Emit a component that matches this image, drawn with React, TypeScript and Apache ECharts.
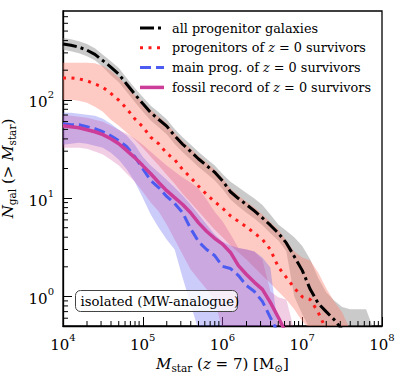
import React, { useEffect, useRef } from "react";
import * as echarts from "echarts";

const SERIF = "DejaVu Serif";

// log10 of stellar mass grid (x positions of all curves)
const logMstar = [
  4.0, 4.1, 4.2, 4.3, 4.4, 4.5, 4.6, 4.7, 4.8, 4.9,
  5.0, 5.1, 5.2, 5.3, 5.4, 5.5, 5.6, 5.7, 5.8, 5.9,
  6.0, 6.1, 6.2, 6.3, 6.4, 6.5, 6.6, 6.7, 6.8, 6.9,
  7.0, 7.1, 7.2, 7.3, 7.4, 7.5, 7.6, 7.7, 7.8, 7.9,
];

// all progenitor galaxies
const allProg = [370, 359, 343, 320, 290, 250, 215, 182, 144, 114, 91.5, 74, 63, 54, 43, 35.3, 29.8, 25, 21.4, 18.4, 15, 11.6, 9.9, 8.6, 7.4, 6.3, 5.3, 4.4, 3.5, 2.55, 1.84, 1.18, 0.85, 0.7, 0.58, 0.46];
const allProgHi = [426, 413, 395, 369, 334, 287, 247, 210, 166, 131.5, 107, 87, 74.5, 63.4, 50.3, 41.5, 35.1, 29.4, 25.2, 21.6, 17.6, 14.7, 12.9, 11.3, 9.9, 8.5, 6.8, 5.4, 4.66, 4.0, 3.26, 2.38, 1.54, 1.1, 0.91, 0.78, 0.74, 0.74, 0.74, 0.45];
const allProgLo = [322, 312, 298, 278, 252, 216, 178, 151, 120, 94.8, 75.9, 61.5, 52.5, 44.7, 35.4, 29.2, 24.7, 20.7, 17.8, 15.2, 12.4, 9.7, 8.2, 7.1, 6.2, 5.3, 4.4, 3.7, 2.88, 1.0, 0.66, 0.46, 0.46, 0.46, 0.46, 0.46, 0.46, 0.46, 0.46, 0.46];

// progenitors of z=0 survivors
const survProg = [167, 167, 163, 156, 145, 134, 116, 98.9, 81, 64.1, 53.2, 41.6, 35.7, 28.6, 24.6, 19.5, 16.2, 13.2, 10.9, 9.2, 7.9, 6.6, 5.8, 5.1, 4.4, 3.8, 3.0, 1.99, 1.56, 1.22, 0.99, 0.93, 0.69, 0.46];
const survProgHi = [238, 238, 238, 238, 235, 221, 197, 169, 139, 112, 95.5, 79.1, 67.8, 57.7, 45.8, 37.8, 32, 26.8, 23, 19.7, 16, 12.5, 10.6, 9.2, 8.0, 6.8, 5.7, 4.8, 3.7, 2.86, 2.49, 2.32, 1.75, 1.21, 0.89, 0.69, 0.46];
const survProgLo = [100, 100, 98, 93.3, 84.9, 75.5, 62.7, 54.5, 46.2, 39.3, 32.6, 26.4, 21.4, 17.3, 14.0, 11.1, 9.0, 7.3, 5.9, 4.8, 4.0, 3.3, 2.8, 2.38, 1.97, 1.63, 1.36, 1.12, 0.93, 0.74, 0.56, 0.46];

// main progenitor of z=0 survivors
const mainProg = [57.1, 55.7, 55.7, 53.2, 50.8, 47.3, 43.1, 38.3, 33.3, 26.4, 19.9, 15.1, 12.8, 10.4, 8.8, 7.1, 4.9, 3.6, 3.0, 2.61, 2.02, 1.92, 1.63, 1.29, 1.12, 0.89, 0.61, 0.42];
const mainProgHi = [73.8, 73.8, 72, 70.4, 68.8, 64, 57, 49.6, 43.1, 34.9, 26.4, 21.4, 18.2, 15.4, 12.8, 10.6, 8.6, 6.8, 5.4, 4.3, 3.6, 3.3, 3.1, 3.0, 2.86, 2.49, 1.97, 0.45];
const mainProgLo = [34.9, 35.7, 36.6, 35.7, 34.1, 32.6, 29, 24.6, 19.5, 14.7, 10.1, 6.8, 5.0, 3.8, 3.0, 1.55, 0.83, 0.45];

// fossil record of z=0 survivors
const fossil = [54.5, 53.2, 52.0, 49.6, 47.3, 44.2, 40.2, 35.7, 30.4, 25.8, 21.4, 17.7, 14.4, 11.9, 10.1, 8.6, 7.1, 5.6, 4.6, 3.9, 3.4, 2.8, 2.06, 1.67, 1.39, 1.18, 0.87, 0.61, 0.42];
const fossilHi = [70.4, 68.8, 67.2, 65.6, 62.7, 59.8, 54.5, 49.6, 45.2, 40.2, 34.9, 29.6, 25.2, 21.4, 18.6, 16.2, 14.4, 12.5, 9.7, 7.3, 5.8, 4.3, 3.1, 3.0, 2.86, 2.38, 1.12, 0.98, 0.93, 0.45];
const fossilLo = [32.6, 32.6, 32.6, 31.8, 29.7, 27.7, 24.6, 21.4, 17.7, 14.7, 11.6, 9.0, 7.3, 5.4, 3.8, 2.67, 1.88, 1.49, 1.18, 0.93, 0.45];

const seriesNames = [
  "all progenitor galaxies",
  "progenitors of z=0 survivors",
  "main prog. of z=0 survivors",
  "fossil record of z=0 survivors",
];
// legend label pieces: [text, italic]
const legendPieces: [string, boolean][][] = [
  [["all progenitor galaxies", false]],
  [["progenitors of ", false], ["z", true], [" = 0 survivors", false]],
  [["main prog. of ", false], ["z", true], [" = 0 survivors", false]],
  [["fossil record of ", false], ["z", true], [" = 0 survivors", false]],
];

const X_MIN = 1e4;
const X_MAX = 1e8;
const Y_MIN = 0.5;
const Y_MAX = 800;

const xMinorTicks = [2, 3, 4, 5, 6, 7, 8, 9].flatMap((m) => [1e4, 1e5, 1e6, 1e7].map((d) => m * d));
const yMinorTicks = [0.6, 0.7, 0.8, 0.9, 2, 3, 4, 5, 6, 7, 8, 9, 20, 30, 40, 50, 60, 70, 80, 90, 200, 300, 400, 500, 600, 700];

const boxLabel = "isolated (MW-analogue)";

const mstar = logMstar.map((e) => Math.pow(10, e));
const pairs = (ys: number[]) => ys.map((y, i) => [mstar[i], y]);

const STYLES = [
  { color: "#000", width: 3, dash: [14, 4, 3, 4] as any },
  { color: "#ff1a1a", width: 3, dash: [3, 5.5] as any },
  { color: "#4d5cf0", width: 3, dash: [11, 5] as any },
  { color: "#cc3d99", width: 3.5, dash: null as any },
];

function band(lo: number[], hi: number[], fill: string, z: number) {
  return {
    type: "custom",
    silent: true,
    clip: true,
    z,
    data: [[mstar[0], hi[0]]],
    renderItem: (_p: any, api: any) => {
      const pts: number[][] = [];
      for (let i = 0; i < hi.length; i++) pts.push(api.coord([mstar[i], hi[i]]));
      for (let i = lo.length - 1; i >= 0; i--) pts.push(api.coord([mstar[i], lo[i]]));
      return { type: "polygon", shape: { points: pts }, style: { fill } };
    },
  };
}

function lineSeries(k: number, ys: number[]) {
  const s = STYLES[k];
  return {
    name: seriesNames[k],
    type: "line",
    data: pairs(ys),
    showSymbol: false,
    symbol: "none",
    clip: true,
    z: 4,
    lineStyle: { color: s.color, width: s.width, type: s.dash || "solid", cap: "butt" },
    itemStyle: { color: s.color },
  };
}

const tickRich = {
  b: { fontFamily: SERIF, fontSize: 15, lineHeight: 20, verticalAlign: "bottom", color: "#000" },
  s: { fontFamily: SERIF, fontSize: 10, lineHeight: 10, verticalAlign: "top", color: "#000" },
};
const nameRich = {
  i: { fontFamily: SERIF, fontStyle: "italic", fontSize: 15, lineHeight: 16, verticalAlign: "top", color: "#000" },
  r: { fontFamily: SERIF, fontSize: 15, lineHeight: 16, verticalAlign: "top", color: "#000" },
  sub: { fontFamily: SERIF, fontSize: 10.5, lineHeight: 17, verticalAlign: "bottom", color: "#000" },
};
const powLabel = (v: number) => `{b|10}{s|${Math.round(Math.log10(v))}}`;

export default function App() {
  const ref = useRef<HTMLDivElement>(null);
  useEffect(() => {
    if (!ref.current) return;
    const chart = echarts.init(ref.current, undefined, { renderer: "svg" });

    const ctx = document.createElement("canvas").getContext("2d") as CanvasRenderingContext2D;
    const fontOf = (it: boolean) => `${it ? "italic " : ""}12.8px "${SERIF}"`;
    const tw = (t: string, it: boolean) => {
      ctx.font = fontOf(it);
      return ctx.measureText(t).width;
    };

    const legendX = 140;
    const legendY0 = 28;
    const legendStep = 19.8;
    const legendGraphics: any[] = [];
    seriesNames.forEach((_n, k) => {
      const s = STYLES[k];
      const y = legendY0 + k * legendStep;
      legendGraphics.push({
        type: "line",
        z: 12,
        shape: { x1: legendX, y1: y, x2: legendX + 24, y2: y },
        style: { stroke: s.color, lineWidth: s.width, lineDash: s.dash || undefined, lineCap: "butt" },
      });
      let cx = legendX + 32;
      legendPieces[k].forEach(([t, it]) => {
        legendGraphics.push({
          type: "text",
          z: 12,
          x: cx,
          y,
          style: { text: t, font: fontOf(it), fill: "#000", verticalAlign: "middle", align: "left" },
        });
        cx += tw(t, it);
      });
    });

    const option: any = {
      animation: false,
      backgroundColor: "#fff",
      textStyle: { fontFamily: SERIF, color: "#000" },
      grid: {
        left: 63, right: 17, top: 11, bottom: 49,
        containLabel: false, outerBoundsMode: "none",
        show: true, borderColor: "#000", borderWidth: 1.3, backgroundColor: "transparent",
      },
      xAxis: {
        type: "log",
        logBase: 10,
        min: X_MIN,
        max: X_MAX,
        splitLine: { show: false },
        axisLine: { show: true, lineStyle: { color: "#000", width: 1.3 } },
        axisTick: { show: true, inside: true, length: 9, lineStyle: { color: "#000", width: 1 } },
        axisLabel: { margin: 6, formatter: powLabel, rich: tickRich },
        name: "{i|M}{sub|star}{r| (}{i|z}{r| = 7) [M}{sub|⊙}{r|]}",
        nameLocation: "middle",
        nameGap: 26,
        nameTextStyle: { rich: nameRich, fontFamily: SERIF, fontSize: 15, color: "#000" },
      },
      yAxis: {
        type: "log",
        logBase: 10,
        min: Y_MIN,
        max: Y_MAX,
        splitLine: { show: false },
        axisLine: { show: true, lineStyle: { color: "#000", width: 1.3 } },
        axisTick: { show: true, inside: true, length: 9, lineStyle: { color: "#000", width: 1 } },
        axisLabel: { margin: 9, formatter: powLabel, rich: tickRich, showMinLabel: false, showMaxLabel: false },
        name: "{i|N}{sub|gal}{r| (> }{i|M}{sub|star}{r|)}",
        nameLocation: "middle",
        nameGap: 36,
        nameRotate: 90,
        nameTextStyle: { rich: nameRich, fontFamily: SERIF, fontSize: 15, color: "#000" },
      },
      series: [
        band(allProgLo, allProgHi, "rgba(128,128,128,0.42)", 1),
        band(survProgLo, survProgHi, "rgba(250,128,114,0.42)", 1),
        band(mainProgLo, mainProgHi, "rgba(95,95,240,0.32)", 1),
        band(fossilLo, fossilHi, "rgba(204,61,153,0.25)", 1),
        lineSeries(0, allProg),
        lineSeries(1, survProg),
        lineSeries(2, mainProg),
        lineSeries(3, fossil),
        {
          type: "custom",
          silent: true,
          clip: false,
          z: 6,
          data: xMinorTicks.map((v) => [v, Y_MIN]),
          renderItem: (p: any, api: any) => {
            const pt = api.coord([api.value(0), Y_MIN]);
            return { type: "line", shape: { x1: pt[0], y1: pt[1], x2: pt[0], y2: pt[1] - 5 }, style: { stroke: "#000", lineWidth: 1 } };
          },
        },
        {
          type: "custom",
          silent: true,
          clip: false,
          z: 6,
          data: yMinorTicks.map((v) => [X_MIN, v]),
          renderItem: (p: any, api: any) => {
            const pt = api.coord([X_MIN, api.value(1)]);
            return { type: "line", shape: { x1: pt[0], y1: pt[1], x2: pt[0] + 5, y2: pt[1] }, style: { stroke: "#000", lineWidth: 1 } };
          },
        },
      ],
      graphic: [
        ...legendGraphics,
        {
          type: "rect",
          z: 10,
          shape: { x: 75.5, y: 290.5, width: 162, height: 21, r: 5 },
          style: { fill: "rgba(255,255,255,0.8)", stroke: "#444", lineWidth: 1 },
        },
        {
          type: "text",
          z: 11,
          x: 80.5,
          y: 301,
          style: { text: boxLabel, font: `13.2px "${SERIF}"`, fill: "#000", verticalAlign: "middle", align: "left" },
        },
      ],
    };
    chart.setOption(option);
    return () => chart.dispose();
  }, []);
  return <div ref={ref} style={{ position: "fixed", left: 0, top: 0, width: 399, height: 375 }} />;
}
